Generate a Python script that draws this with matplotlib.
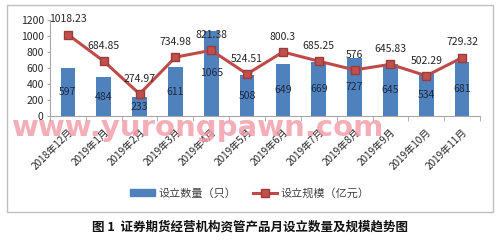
import matplotlib
matplotlib.use("Agg")
import matplotlib.pyplot as plt
from matplotlib.patches import Rectangle, Patch
from matplotlib.lines import Line2D

plt.rcParams['font.family'] = ['Noto Sans CJK SC', 'DejaVu Sans']

months = ['2018年12月', '2019年1月', '2019年2月', '2019年3月', '2019年4月', '2019年5月',
          '2019年6月', '2019年7月', '2019年8月', '2019年9月', '2019年10月', '2019年11月']
counts = [597, 484, 233, 611, 1065, 508, 649, 669, 727, 645, 534, 681]
scale = [1018.23, 684.85, 274.97, 734.98, 821.38, 524.51, 800.3, 685.25, 576, 645.83, 502.29, 729.32]
yticks = [0, 200, 400, 600, 800, 1000, 1200]

bar_c = '#4F81BD'
line_c = '#BE4B48'
txt_c = '#262626'

fig = plt.figure(figsize=(5, 2.4), dpi=100)

# outer chart frame
fig.patches.append(Rectangle((0.014, 0.117), 0.972, 0.8625, transform=fig.transFigure,
                             fill=False, ec='#BFBFBF', lw=1.0))

ax = fig.add_axes([0.1, 0.5167, 0.86, 0.40])
x = list(range(len(months)))

ax.bar(x, counts, width=0.41, color=bar_c, zorder=2)
ax.plot(x, scale, color=line_c, lw=2.2, marker='s', ms=5.5,
        mfc='#C0504D', mec='#9C3B39', zorder=3)

for xi, v in zip(x, counts):
    ax.text(xi, v / 2, str(v), ha='center', va='center', fontsize=7.5, color='#1F2A44', zorder=4)
for xi, v in zip(x, scale):
    ax.annotate(f'{v:g}', (xi, v), xytext=(0, 11), textcoords='offset points',
                ha='center', va='center', fontsize=7.5, color=txt_c, zorder=4)

ax.set_xlim(-0.5, len(months) - 0.5)
ax.set_ylim(0, 1200)
ax.set_yticks(yticks)
ax.tick_params(axis='y', length=2.5, color='#A6A6A6', labelsize=7.5, labelcolor=txt_c, pad=2)

ax.set_xticks(x)
ax.set_xticklabels(months, rotation=45, ha='right', rotation_mode='anchor', fontsize=7.2,
                   color=txt_c)
ax.tick_params(axis='x', which='major', length=0, pad=8)
ax.set_xticks([i - 0.5 for i in range(len(months) + 1)], minor=True)
ax.tick_params(axis='x', which='minor', length=3.5, color='#A6A6A6')

for s in ['top', 'right']:
    ax.spines[s].set_visible(False)
for s in ['left', 'bottom']:
    ax.spines[s].set_color('#A6A6A6')
    ax.spines[s].set_linewidth(0.8)

handles = [Patch(color=bar_c),
           Line2D([], [], color=line_c, lw=2.2, marker='s', ms=5.5, mfc='#C0504D', mec='#9C3B39')]
fig.legend(handles, ['设立数量（只）', '设立规模（亿元）'], loc='center', bbox_to_anchor=(0.5, 0.196),
           ncol=2, frameon=False, fontsize=8, handlelength=2.2, handleheight=0.6,
           columnspacing=1.5, handletextpad=0.3, labelcolor='#404040')

# site watermark
fig.text(0.024, 0.434, 'www.yurongpawn.com', fontsize=21, fontweight='bold', color='#F29AA6',
         alpha=0.8, family='DejaVu Sans', ha='left', va='baseline', zorder=1)

fig.text(0.5, 0.054, '图 1  证券期货经营机构资管产品月设立数量及规模趋势图', ha='center', va='center',
         fontsize=9, fontweight='bold', color='#111111')

fig.savefig('out.png', dpi=100)
